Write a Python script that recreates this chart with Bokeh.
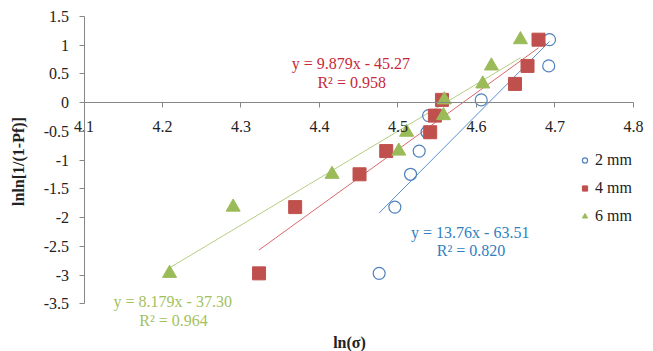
import math
from bokeh.plotting import figure
from bokeh.models import Range1d, FixedTicker, CustomJSTickFormatter, Label, Legend, LegendItem
from bokeh.embed import file_html
from bokeh.resources import INLINE

# ---- data ----
series_names = ["2 mm", "4 mm", "6 mm"]
x_2mm = [4.476, 4.496, 4.516, 4.527, 4.537, 4.539, 4.606, 4.649, 4.692, 4.693]
y_2mm = [-2.970, -1.817, -1.246, -0.842, -0.514, -0.225, 0.049, 0.327, 0.640, 1.097]
x_4mm = [4.323, 4.369, 4.451, 4.485, 4.541, 4.547, 4.556, 4.649, 4.665, 4.679]
y_4mm = [-2.970, -1.817, -1.246, -0.842, -0.514, -0.225, 0.049, 0.327, 0.640, 1.097]
x_6mm = [4.209, 4.290, 4.416, 4.501, 4.511, 4.558, 4.559, 4.608, 4.619, 4.656]
y_6mm = [-2.970, -1.817, -1.246, -0.842, -0.514, -0.225, 0.049, 0.327, 0.640, 1.097]
slopes = [13.76, 9.879, 8.179]
intercepts = [-63.51, -45.27, -37.30]
r2_values = ["0.820", "0.958", "0.964"]
equation_texts = ["y = 13.76x - 63.51", "y = 9.879x - 45.27", "y = 8.179x - 37.30"]
x_ticks = [4.1, 4.2, 4.3, 4.4, 4.5, 4.6, 4.7, 4.8]
y_ticks = [-3.5, -3.0, -2.5, -2.0, -1.5, -1.0, -0.5, 0.0, 0.5, 1.0, 1.5]
x_title = "ln(\u03c3)"
y_title = "lnln[1/(1-Pf)]"

FONT = "Liberation Serif"
AXIS_GRAY = "#868686"
TEXT = "#222222"

# frame covers the whole canvas; axes sit at fixed positions with bounds
p = figure(width=653, height=351, output_backend="svg", toolbar_location=None,
           x_range=Range1d(3.99363, 4.82548), y_range=Range1d(-4.3301, 1.77846),
           min_border_left=0, min_border_right=0, min_border_top=0, min_border_bottom=0)
p.outline_line_color = None
p.xgrid.visible = False
p.ygrid.visible = False
p.background_fill_color = "white"
p.border_fill_color = "white"

fmt = CustomJSTickFormatter(code="return String(Math.round(tick*10)/10);")

xa = p.xaxis[0]
xa.fixed_location = 0
xa.bounds = (x_ticks[0], x_ticks[-1])
xa.ticker = FixedTicker(ticks=x_ticks)
xa.formatter = fmt
xa.axis_line_color = AXIS_GRAY
xa.major_tick_line_color = AXIS_GRAY
xa.minor_tick_line_color = None
xa.major_tick_in = 0
xa.major_tick_out = 5
xa.major_label_standoff = 13
xa.major_label_text_font = FONT
xa.major_label_text_font_size = "16px"
xa.major_label_text_color = TEXT

ya = p.yaxis[0]
ya.fixed_location = x_ticks[0]
ya.bounds = (y_ticks[0], y_ticks[-1])
ya.ticker = FixedTicker(ticks=y_ticks)
ya.formatter = fmt
ya.axis_line_color = AXIS_GRAY
ya.major_tick_line_color = AXIS_GRAY
ya.minor_tick_line_color = None
ya.major_tick_in = 0
ya.major_tick_out = 5
ya.major_label_standoff = 10
ya.major_label_text_font = FONT
ya.major_label_text_font_size = "16px"
ya.major_label_text_color = TEXT

# trend lines
line_colors = ["#5b8fd0", "#d9686c", "#b4cd83"]
xs_all = [x_2mm, x_4mm, x_6mm]
for xs, m, b, c in zip(xs_all, slopes, intercepts, line_colors):
    x0, x1 = min(xs), max(xs)
    p.line([x0, x1], [m * x0 + b, m * x1 + b], line_color=c, line_width=1)

# markers
r2 = p.scatter(x_2mm, y_2mm, marker="circle", size=12, line_color="#4F81BD", line_width=1.2,
               fill_alpha=0)
r4 = p.scatter(x_4mm, y_4mm, marker="square", size=13, line_color="#C0504D", fill_color="#C0504D")
r6 = p.scatter(x_6mm, y_6mm, marker="triangle", size=14, line_color="#9BBB59", fill_color="#9BBB59")

legend = Legend(items=[LegendItem(label=series_names[0], renderers=[r2]),
                       LegendItem(label=series_names[1], renderers=[r4]),
                       LegendItem(label=series_names[2], renderers=[r6])],
                location=(578, 125))
legend.border_line_color = None
legend.background_fill_alpha = 0
legend.padding = 0
legend.margin = 0
legend.spacing = 8
legend.glyph_width = 13
legend.glyph_height = 20
legend.label_height = 20
legend.label_standoff = 4
legend.label_text_font = FONT
legend.label_text_font_size = "16px"
legend.label_text_color = TEXT
p.add_layout(legend)

# equation labels
text_colors = ["#2f7fc1", "#c8283a", "#a3bf5e"]
label_pos = [((4.592, -2.254), (4.593, -2.572)),
             ((4.440, 0.677), (4.441, 0.357)),
             ((4.213, -3.460), (4.214, -3.790))]
for eq, r2v, pos, c in zip(equation_texts, r2_values, label_pos, text_colors):
    for txt, (lx, ly) in zip([eq, "R\u00b2 = " + r2v], pos):
        p.add_layout(Label(x=lx, y=ly, text=txt, text_align="center", text_baseline="middle",
                           text_font=FONT, text_font_size="16px", text_color=c))

# axis titles
p.add_layout(Label(x=4.4382, y=-4.168, text=x_title, text_align="center", text_baseline="middle",
                   text_font=FONT, text_font_size="16px", text_font_style="bold", text_color=TEXT))
p.add_layout(Label(x=4.0166, y=-1.0235, text=y_title, angle=math.pi / 2,
                   text_align="center", text_baseline="middle",
                   text_font=FONT, text_font_size="16px", text_font_style="bold", text_color=TEXT))

open("out.html", "w").write(file_html(p, INLINE))
